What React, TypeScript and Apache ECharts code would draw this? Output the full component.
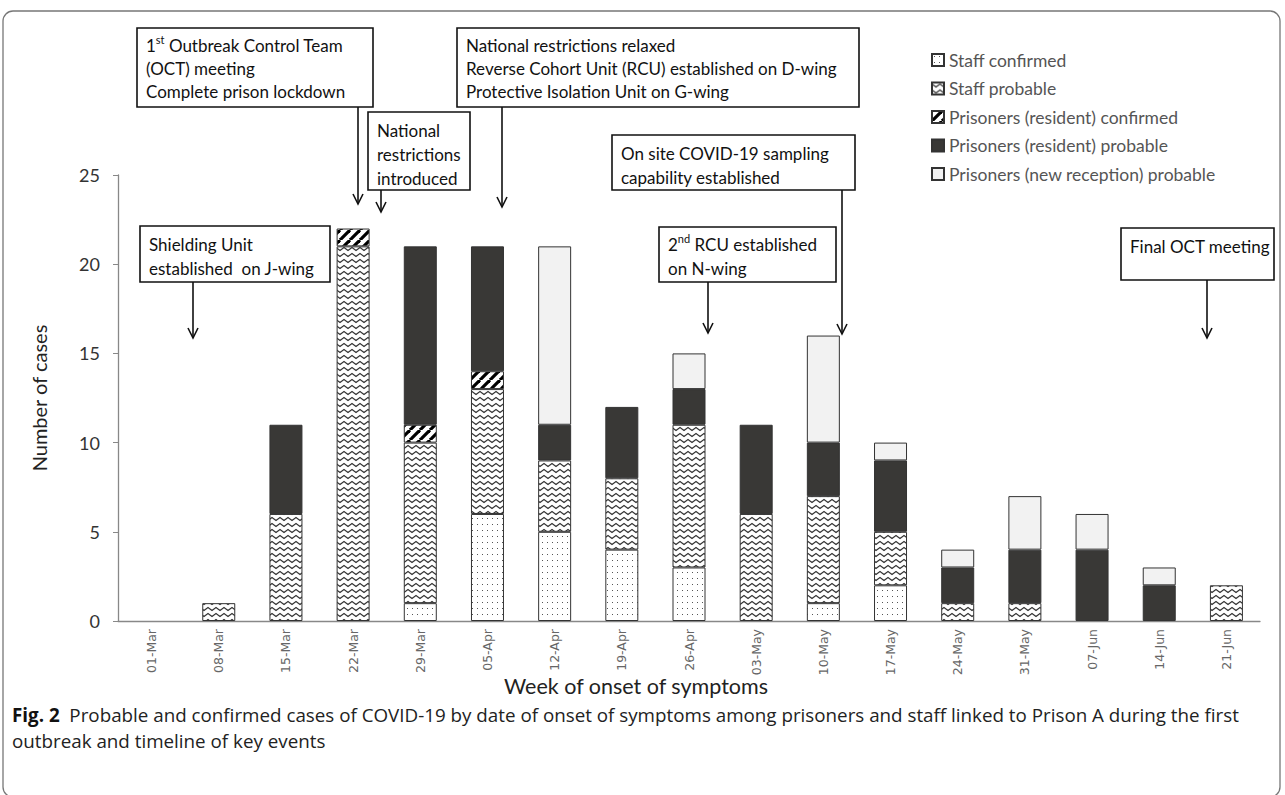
import React, { useEffect, useRef } from 'react';
import * as echarts from 'echarts';

const categories = ['01-Mar', '08-Mar', '15-Mar', '22-Mar', '29-Mar', '05-Apr', '12-Apr', '19-Apr', '26-Apr', '03-May', '10-May', '17-May', '24-May', '31-May', '07-Jun', '14-Jun', '21-Jun'];
const staffConfirmed = [0, 0, 0, 0, 1, 6, 5, 4, 3, 0, 1, 2, 0, 0, 0, 0, 0];
const staffProbable = [0, 1, 6, 21, 9, 7, 4, 4, 8, 6, 6, 3, 1, 1, 0, 0, 2];
const prisonersConfirmed = [0, 0, 0, 1, 1, 1, 0, 0, 0, 0, 0, 0, 0, 0, 0, 0, 0];
const prisonersProbable = [0, 0, 5, 0, 10, 7, 2, 4, 2, 5, 3, 4, 2, 3, 4, 2, 0];
const newReceptionProbable = [0, 0, 0, 0, 0, 0, 10, 0, 2, 0, 6, 1, 1, 3, 2, 1, 0];
const seriesNames = [
  'Staff confirmed',
  'Staff probable',
  'Prisoners (resident) confirmed',
  'Prisoners (resident) probable',
  'Prisoners (new reception) probable',
];
const yMin = 0;
const yMax = 25;
const yInterval = 5;

const FONT = 'Lato, "Open Sans", sans-serif';
const CAPFONT = '"Open Sans", Lato, sans-serif';

function makeCanvas(w: number, h: number, draw: (ctx: CanvasRenderingContext2D) => void) {
  const c = document.createElement('canvas');
  c.width = w;
  c.height = h;
  const ctx = c.getContext('2d') as CanvasRenderingContext2D;
  ctx.fillStyle = '#ffffff';
  ctx.fillRect(0, 0, w, h);
  draw(ctx);
  return c;
}

function pattern(c: HTMLCanvasElement) {
  return { image: c, repeat: 'repeat', imageWidth: c.width, imageHeight: c.height } as any;
}

function box(x: number, y: number, w: number, h: number, text: string, ax: number, ay1: number, ay2: number, lineHeight = 23, rich?: any) {
  const els: any[] = [
    { type: 'rect', shape: { x, y, width: w, height: h }, style: { fill: '#fff', stroke: '#111', lineWidth: 1.6 }, z: 10 },
    {
      type: 'text', x: x + 9, y: y + 6, z: 11,
      style: { text, font: `17px ${FONT}`, fill: '#111', lineHeight, rich },
    },
    { type: 'line', shape: { x1: ax, y1: ay1, x2: ax, y2: ay2 }, style: { stroke: '#111', lineWidth: 1.6 }, z: 10 },
    { type: 'polyline', shape: { points: [[ax - 5, ay2 - 10], [ax, ay2], [ax + 5, ay2 - 10]] }, style: { stroke: '#111', lineWidth: 1.6, fill: null }, z: 10 },
  ];
  return els;
}

export default function App() {
  const ref = useRef<HTMLDivElement>(null);
  useEffect(() => {
    if (!ref.current) return;
    const chart = echarts.init(ref.current, null, { renderer: 'svg' });

    const dots = makeCanvas(5, 6, (ctx) => {
      ctx.fillStyle = '#555';
      ctx.fillRect(2, 2, 1, 1);
    });
    const zig = makeCanvas(8, 6, (ctx) => {
      ctx.strokeStyle = '#333';
      ctx.lineWidth = 1.2;
      ctx.beginPath();
      ctx.moveTo(-1, 1);
      ctx.lineTo(0, 1.5);
      ctx.lineTo(4, 4.5);
      ctx.lineTo(8, 1.5);
      ctx.lineTo(9, 1);
      ctx.stroke();
    });
    const stripes = makeCanvas(10, 10, (ctx) => {
      ctx.strokeStyle = '#000';
      ctx.lineWidth = 3.2;
      for (const k of [-10, 0, 10]) {
        ctx.beginPath();
        ctx.moveTo(k, 10);
        ctx.lineTo(k + 10, 0);
        ctx.stroke();
      }
    });

    const fills: any[] = [pattern(dots), pattern(zig), pattern(stripes), '#393836', '#f2f2f2'];
    const datas = [staffConfirmed, staffProbable, prisonersConfirmed, prisonersProbable, newReceptionProbable];

    const series = datas.map((d, i) => ({
      name: seriesNames[i],
      type: 'bar',
      stack: 'total',
      barWidth: 33,
      data: d.map((v) => (v === 0 ? null : v)),
      itemStyle: { color: fills[i], borderColor: '#333', borderWidth: 1 },
      emphasis: { disabled: true },
    }));

    const supRich = {
      s: { fontSize: 11, fontFamily: FONT, fill: '#111', verticalAlign: 'top', lineHeight: 14 },
      n: { fontSize: 17, fontFamily: FONT, fill: '#111', lineHeight: 23 },
    };

    const elements: any[] = [
      { type: 'rect', shape: { x: 3, y: 11, width: 1277, height: 786, r: 10 }, style: { fill: null, stroke: '#777', lineWidth: 1.3 }, z: 0 },
      ...box(137, 28, 236, 79, '{n|1}{s|st}{n| Outbreak Control Team}\n(OCT) meeting\nComplete prison lockdown', 358, 107, 204, 23, supRich),
      ...box(368, 112, 102, 78, 'National\nrestrictions\nintroduced', 381, 190, 212, 24),
      ...box(457, 28, 402, 79, 'National restrictions relaxed\nReverse Cohort Unit (RCU) established on D-wing\nProtective Isolation Unit on G-wing', 502, 107, 207, 23),
      ...box(612, 135, 243, 55, 'On site COVID-19 sampling\ncapability established', 842, 190, 334, 24),
      ...box(659, 227, 177, 55, '{n|2}{s|nd}{n| RCU established}\non N-wing', 708, 282, 333, 24, supRich),
      ...box(140, 226, 190, 56, 'Shielding Unit\nestablished  on J-wing', 193, 282, 338, 24),
      ...box(1121, 228, 153, 52, 'Final OCT meeting', 1207, 280, 338, 24),
      {
        type: 'text', x: 636, y: 686, z: 5,
        style: { text: 'Week of onset of symptoms', font: `21.5px ${FONT}`, fill: '#222', align: 'center', verticalAlign: 'middle' },
      },
      {
        type: 'text', x: 12, y: 702, z: 5,
        style: {
          text: '{b|Fig. 2}{t|  Probable and confirmed cases of COVID-19 by date of onset of symptoms among prisoners and staff linked to Prison A during the first}\n{t|outbreak and timeline of key events}',
          verticalAlign: 'top',
          rich: {
            b: { fontSize: 18.8, fontWeight: 'bold', fontFamily: CAPFONT, fill: '#111', lineHeight: 26 },
            t: { fontSize: 18.8, fontFamily: CAPFONT, fill: '#222', lineHeight: 26 },
          },
        },
      },
    ];

    chart.setOption({
      animation: false,
      grid: { left: 118, top: 175, width: 1142, height: 446, containLabel: false },
      legend: {
        orient: 'vertical',
        left: 926,
        top: 46,
        itemWidth: 12,
        itemHeight: 12,
        itemGap: 10.5,
        icon: 'rect',
        selectedMode: false,
        textStyle: { fontSize: 17.5, fontFamily: FONT, color: '#555', lineHeight: 18 },
        data: seriesNames,
      },
      xAxis: {
        type: 'category',
        data: categories,
        axisLine: { lineStyle: { color: '#888', width: 1.3 } },
        axisTick: { alignWithLabel: true, length: 4, lineStyle: { color: '#888' } },
        axisLabel: { rotate: 90, fontSize: 12.5, fontFamily: '"DejaVu Sans", sans-serif', color: '#666', margin: 8 },
      },
      yAxis: {
        type: 'value',
        min: yMin,
        max: yMax,
        interval: yInterval,
        name: 'Number of cases',
        nameLocation: 'middle',
        nameGap: 69,
        nameTextStyle: { fontSize: 20, fontFamily: FONT, color: '#222' },
        splitLine: { show: false },
        axisLine: { show: true, lineStyle: { color: '#888', width: 1.3 } },
        axisTick: { show: true, length: 5, lineStyle: { color: '#888' } },
        axisLabel: { fontSize: 18, fontFamily: FONT, color: '#333', margin: 18 },
      },
      graphic: { elements },
      series,
    } as any);

    return () => chart.dispose();
  }, []);

  return <div ref={ref} style={{ position: 'fixed', left: 0, top: 0, width: 1285, height: 795, background: '#fff' }} />;
}
